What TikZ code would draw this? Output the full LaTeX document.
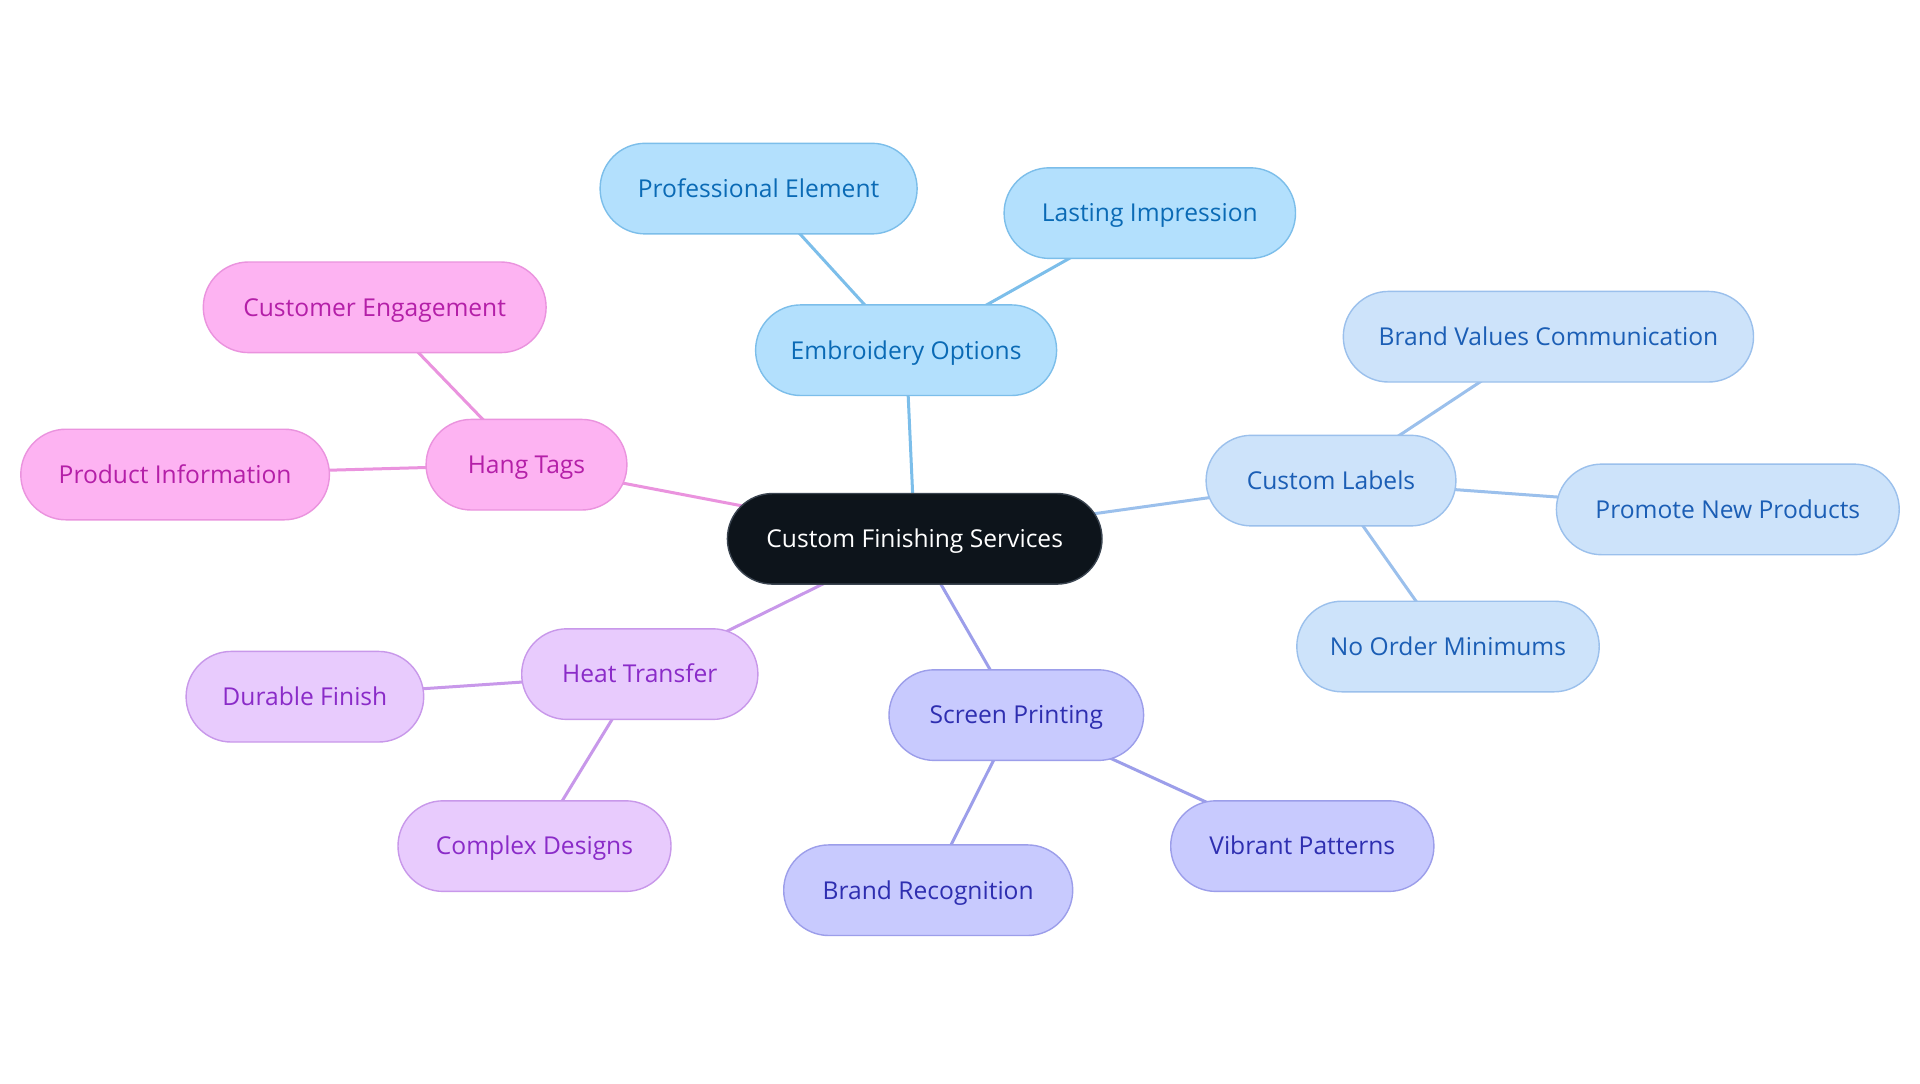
\documentclass[tikz,border=0pt]{standalone}
\usepackage{fontspec}
\setmainfont{Open Sans}
\usetikzlibrary{backgrounds}
\definecolor{cdark}{HTML}{0D141B}
\definecolor{cdarkb}{HTML}{3A4450}
\definecolor{eFill}{HTML}{B3E0FD}
\definecolor{eLine}{HTML}{7CBEEA}
\definecolor{eText}{HTML}{0A6AB5}
\definecolor{lFill}{HTML}{CDE3FA}
\definecolor{lLine}{HTML}{9BC0EC}
\definecolor{lText}{HTML}{1B5EB5}
\definecolor{sFill}{HTML}{C8CAFE}
\definecolor{sLine}{HTML}{9C9EEA}
\definecolor{sText}{HTML}{2E2EB0}
\definecolor{hFill}{HTML}{E8CBFD}
\definecolor{hLine}{HTML}{C898EA}
\definecolor{hText}{HTML}{8A2BC8}
\definecolor{tFill}{HTML}{FDB3F2}
\definecolor{tLine}{HTML}{EA93DE}
\definecolor{tText}{HTML}{B41FA8}
\tikzset{
  x=0.5pt, y=-0.5pt,
  pill/.style={rectangle, rounded corners=22.6pt, minimum height=45.3pt, line width=0.7pt, font=\fontsize{12.3}{14}\selectfont, inner sep=0pt, text height=8.8pt, text depth=0pt},
  cnode/.style={pill, fill=cdark, draw=cdarkb, text=white},
  enode/.style={pill, fill=eFill, draw=eLine, text=eText},
  lnode/.style={pill, fill=lFill, draw=lLine, text=lText},
  snode/.style={pill, fill=sFill, draw=sLine, text=sText},
  hnode/.style={pill, fill=hFill, draw=hLine, text=hText},
  tnode/.style={pill, fill=tFill, draw=tLine, text=tText},
  link/.style={line width=1.5pt},
}
\begin{document}
\begin{tikzpicture}
\useasboundingbox (0,0) rectangle (1920,1083);
\node[cnode, minimum width=187.3pt] (c) at (914.7,538.8) {Custom Finishing Services};
\node[enode, minimum width=150.5pt] (emb) at (906.1,350.2) {Embroidery Options};
\node[enode, minimum width=158.5pt] (pro) at (758.6,188.6) {Professional Element};
\node[enode, minimum width=145.7pt] (las) at (1149.8,213.1) {Lasting Impression};
\node[lnode, minimum width=124.9pt] (lab) at (1331,480.6) {Custom Labels};
\node[lnode, minimum width=205.1pt] (bvc) at (1548.4,336.7) {Brand Values Communication};
\node[lnode, minimum width=171.4pt] (pnp) at (1727.8,509.4) {Promote New Products};
\node[lnode, minimum width=151.2pt] (nom) at (1448,646.5) {No Order Minimums};
\node[tnode, minimum width=100.4pt] (hang) at (526.5,464.7) {Hang Tags};
\node[tnode, minimum width=171.4pt] (ce) at (374.7,307.3) {Customer Engagement};
\node[tnode, minimum width=154.3pt] (pi) at (175.1,474.5) {Product Information};
\node[hnode, minimum width=118.1pt] (heat) at (639.8,674.1) {Heat Transfer};
\node[hnode, minimum width=118.8pt] (df) at (304.9,696.7) {Durable Finish};
\node[hnode, minimum width=136.5pt] (cd) at (534.5,846.1) {Complex Designs};
\node[snode, minimum width=127.3pt] (scr) at (1016.3,715.1) {Screen Printing};
\node[snode, minimum width=144.5pt] (br) at (928.2,890.2) {Brand Recognition};
\node[snode, minimum width=131.6pt] (vp) at (1302.3,846.1) {Vibrant Patterns};
\begin{scope}[on background layer]
\fill[white] (0,0) rectangle (1920,1083);
\draw[link, eLine] (c.center) -- (emb.center);
\draw[link, eLine] (emb.center) -- (pro.center);
\draw[link, eLine] (emb.center) -- (las.center);
\draw[link, lLine] (c.center) -- (lab.center);
\draw[link, lLine] (lab.center) -- (bvc.center);
\draw[link, lLine] (lab.center) -- (pnp.center);
\draw[link, lLine] (lab.center) -- (nom.center);
\draw[link, tLine] (c.center) -- (hang.center);
\draw[link, tLine] (hang.center) -- (ce.center);
\draw[link, tLine] (hang.center) -- (pi.center);
\draw[link, hLine] (c.center) -- (heat.center);
\draw[link, hLine] (heat.center) -- (df.center);
\draw[link, hLine] (heat.center) -- (cd.center);
\draw[link, sLine] (c.center) -- (scr.center);
\draw[link, sLine] (scr.center) -- (br.center);
\draw[link, sLine] (scr.center) -- (vp.center);
\end{scope}
\end{tikzpicture}
\end{document}
